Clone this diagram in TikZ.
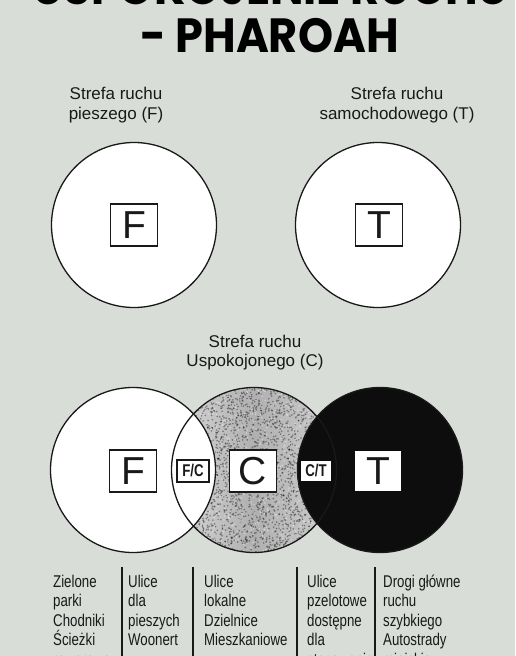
\documentclass[tikz,border=0pt]{standalone}
\usepackage{fontspec}
\setmainfont{Liberation Sans}
\newfontfamily\titlefont{Poppins}[FakeStretch=0.93]
\newfontfamily\narrowfont{Liberation Sans}[FakeStretch=0.78]
\definecolor{bgc}{RGB}{217,221,216}
\definecolor{ink}{RGB}{25,25,25}
\begin{document}
\begin{tikzpicture}[x=1pt,y=-1pt,
  titletext/.style={inner sep=0pt,anchor=base west,font={\titlefont\bfseries\fontsize{48}{50}\selectfont}},
  lbl/.style={inner sep=0pt,anchor=base,font={\fontsize{17}{20}\selectfont},text=ink},
  zone/.style={circle,draw=ink,line width=1.3pt,inner sep=0pt,minimum size=165pt},
  bigbox/.style={draw=ink,line width=1.2pt,fill=white,inner sep=0pt,minimum width=47pt,minimum height=42pt,font={\fontsize{39}{40}\selectfont},text=ink},
  smallbox/.style={draw=ink,line width=1.1pt,fill=white,inner sep=0pt,minimum width=32pt,minimum height=22pt,font={\narrowfont\bfseries\fontsize{17}{18}\selectfont},text=ink},
  coltext/.style={inner sep=0pt,anchor=north west,align=left,font={\narrowfont\fontsize{17}{19.5}\selectfont},text=ink},
  sep/.style={draw=ink,line width=1.4pt}]
\fill[bgc] (0,0) rectangle (515,656);
\useasboundingbox (0,0) rectangle (515,656);
\clip (0,0) rectangle (515,656);

% title
\node[titletext] (t1) at (32,4) {USPOKOJENIE RUCHU};
\node[titletext] (t2) at (140,52) {- PHAROAH};

% top labels
\node[lbl] (lFa) at (116,99) {Strefa ruchu};
\node[lbl] (lFb) at (116,119) {pieszego (F)};
\node[lbl] (lTa) at (397,99) {Strefa ruchu};
\node[lbl] (lTb) at (397,119) {samochodowego (T)};

% top circles
\node[zone,fill=white] (cF) at (134,225) {};
\node[zone,fill=white] (cT) at (378,225) {};
\node[bigbox] (bF) at (134,225) {F};
\node[bigbox] (bT) at (379,225) {T};

% bottom label
\node[lbl] (lCa) at (255,347) {Strefa ruchu};
\node[lbl] (lCb) at (255,366) {Uspokojonego (C)};

% middle (gray speckled) circle
\begin{scope}
  \clip (254,470) circle (82.5pt);
  \shade[left color=gray!30,right color=gray!38,middle color=gray!62] (171,387) rectangle (337,553);
  \pgfmathsetseed{7}
  \foreach \i in {1,...,2600}{
    \pgfmathsetmacro\xx{171+166*rnd}
    \pgfmathsetmacro\yy{387+166*rnd}
    \fill[black,opacity=0.38] (\xx,\yy) circle (0.9pt);
  }
  \foreach \i in {1,...,900}{
    \pgfmathsetmacro\xx{171+166*rnd}
    \pgfmathsetmacro\yy{387+166*rnd}
    \fill[white,opacity=0.4] (\xx,\yy) circle (0.8pt);
  }
\end{scope}
\fill[white] (133,470) circle (82.5pt);
\fill[black!95] (380,470) circle (82.5pt);
\node[zone] (c1) at (133,470) {};
\node[zone] (c2) at (254,470) {};
\node[zone] (c3) at (380,470) {};

\node[bigbox] (b1) at (133,471) {F};
\node[smallbox] (bFC) at (193,471) {F/C};
\node[bigbox] (b2) at (253,471) {C};
\node[smallbox,draw=black!95] (bCT) at (316,471) {C/T};
\node[bigbox,draw=black!95] (b3) at (378,471) {T};

% column separators
\coordinate (s1a) at (122,567); \coordinate (s1b) at (122,660);
\coordinate (s2a) at (193,567); \coordinate (s2b) at (193,660);
\coordinate (s3a) at (297,567); \coordinate (s3b) at (297,660);
\coordinate (s4a) at (375,567); \coordinate (s4b) at (375,660);
\draw[sep] (s1a) -- (s1b);
\draw[sep] (s2a) -- (s2b);
\draw[sep] (s3a) -- (s3b);
\draw[sep] (s4a) -- (s4b);

% column texts
\node[coltext] (k1) at (53,574.5) {Zielone\\parki\\Chodniki\\Ścieżki\\rowerowe};
\node[coltext] (k2) at (128,574.5) {Ulice\\dla\\pieszych\\Woonert};
\node[coltext] (k3) at (204,574.5) {Ulice\\lokalne\\Dzielnice\\Mieszkaniowe};
\node[coltext] (k4) at (307,574.5) {Ulice\\pzelotowe\\dostępne\\dla\\stosowania};
\node[coltext] (k5) at (383,574.5) {Drogi główne\\ruchu\\szybkiego\\Autostrady\\miejskie};
\end{tikzpicture}
\end{document}
